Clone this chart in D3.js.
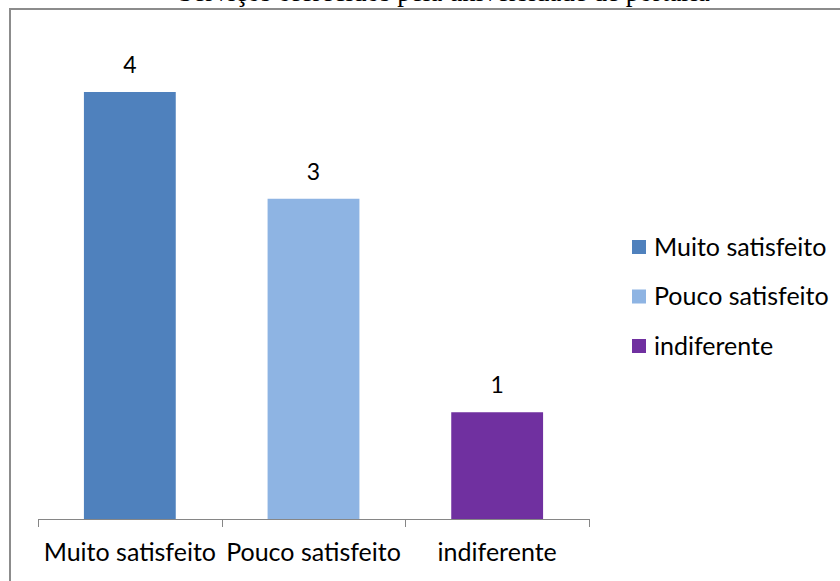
<!DOCTYPE html>
<html><head><meta charset="utf-8">
<script src="https://cdn.jsdelivr.net/npm/d3@7"></script>
<style>body{margin:0;background:#fff}svg{display:block}</style>
</head><body>
<svg id="c" width="840" height="581"></svg>
<script>
const title = "Serviços oferecidos pela universidade de portaria";
const categories = ["Muito satisfeito", "Pouco satisfeito", "indiferente"];
const values = [4, 3, 1];
const colors = ["#4F81BD", "#8EB4E3", "#7030A0"];

const svg = d3.select("#c");
const font = "Lato, 'Open Sans', sans-serif";

// frame
svg.append("rect").attr("x", 10).attr("y", 9).attr("width", 840).attr("height", 600)
  .attr("fill", "#fff").attr("stroke", "#8c8c8c").attr("stroke-width", 2);

// title (cut off at top edge in the reference)
svg.append("text").attr("x", 444).attr("y", 0.5).attr("text-anchor", "middle")
  .attr("font-family", "'Liberation Serif', serif").attr("font-size", 27).attr("fill", "#000")
  .text(title);

const x = d3.scaleBand().domain(categories).range([38, 589]).paddingInner(0.5).paddingOuter(0.25);
const y = d3.scaleLinear().domain([0, 4]).range([519, 92]);

const g = svg.append("g");
g.selectAll("rect.bar").data(values).join("rect").attr("class", "bar")
  .attr("x", (d, i) => x(categories[i]))
  .attr("width", x.bandwidth())
  .attr("y", d => y(d))
  .attr("height", d => y(0) - y(d))
  .attr("fill", (d, i) => colors[i]);

g.selectAll("text.lbl").data(values).join("text").attr("class", "lbl")
  .attr("x", (d, i) => x(categories[i]) + x.bandwidth() / 2)
  .attr("y", d => y(d) - 19)
  .attr("text-anchor", "middle").attr("font-family", font).attr("font-size", 23).attr("fill", "#000")
  .text(d => d);

// axis
const axis = d3.axisBottom(x).tickSize(0).tickFormat(d => d);
const ax = svg.append("g").attr("transform", "translate(0,519)").call(axis);
ax.select(".domain").attr("stroke", "#868686").attr("stroke-width", 1).attr("d", "M38.5,0.5H589.5");
ax.selectAll(".tick text").attr("font-family", font).attr("font-size", 25).attr("fill", "#000")
  .attr("dy", 0).attr("y", 42);
const edges = [38].concat(categories.map(c => x(c) + x.bandwidth() + x.step() * 0.25));
ax.selectAll("line.tk").data(edges).join("line").attr("class", "tk")
  .attr("x1", d => Math.round(d) + 0.5).attr("x2", d => Math.round(d) + 0.5)
  .attr("y1", 0).attr("y2", 8).attr("stroke", "#868686");

// legend
const lg = svg.append("g").attr("transform", "translate(632,240)");
const items = lg.selectAll("g").data(categories).join("g")
  .attr("transform", (d, i) => `translate(0,${i * 49.5})`);
items.append("rect").attr("width", 14).attr("height", 14).attr("fill", (d, i) => colors[i]);
items.append("text").attr("x", 22).attr("y", 7).attr("dy", "0.35em")
  .attr("font-family", font).attr("font-size", 25).attr("fill", "#000").text(d => d);
</script>
</body></html>
